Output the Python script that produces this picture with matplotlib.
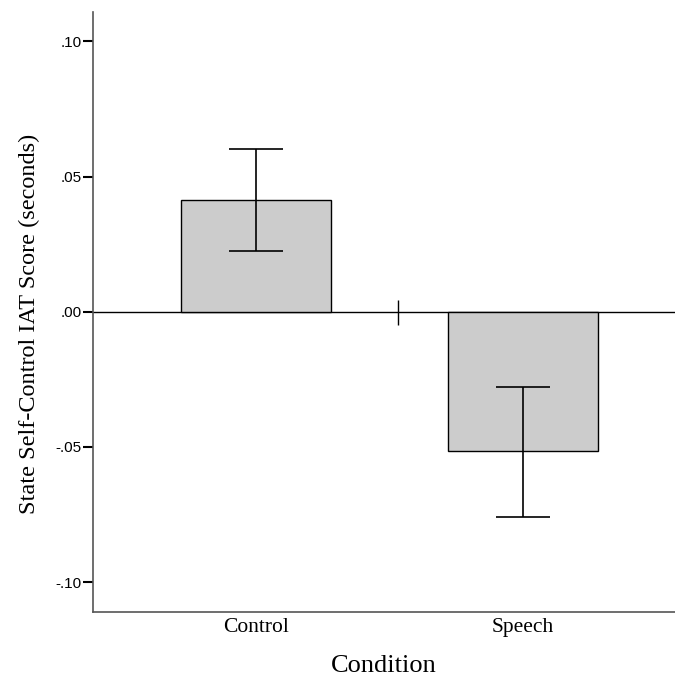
import numpy as np
import matplotlib.pyplot as plt

# Data
conditions = ['Control', 'Speech']
means = np.array([0.0414, -0.0517])
err_low = np.array([0.0226, -0.0758])
err_high = np.array([0.0603, -0.0277])

ind = np.arange(len(conditions))

fig = plt.figure(figsize=(6.75, 6.77), dpi=100)
ax = fig.add_axes([0.1378, 0.096, 0.862, 0.8863])

serif = 'Liberation Serif'
sans = 'Liberation Sans'

# bars
ax.bar(ind, means, 0.562, color='#cccccc', edgecolor='black', linewidth=1.0, zorder=2)

# error bars
yerr = np.vstack([means - err_low, err_high - means])
ax.errorbar(ind, means, yerr=yerr, fmt='none', ecolor='black', elinewidth=1.2,
            capsize=19.5, capthick=1.2, zorder=3)

# zero line and separator tick
ax.axhline(0, color='black', linewidth=1.0, zorder=1)
ax.plot([0.532], [0], marker='|', markersize=18, markeredgewidth=1.0, color='black', zorder=3)

ax.set_xlim(-0.61, 1.5675)
ax.set_ylim(-0.1111, 0.1109)

for s in ['top', 'right']:
    ax.spines[s].set_visible(False)
for s in ['left', 'bottom']:
    ax.spines[s].set_color('#555555')
    ax.spines[s].set_linewidth(1.2)

yt = [-0.10, -0.05, 0.0, 0.05, 0.10]
ax.set_yticks(yt)
ax.set_yticklabels(['-.10', '-.05', '.00', '.05', '.10'], fontfamily=sans, fontsize=11)
ax.tick_params(axis='y', length=7, width=1.5, color='black', pad=1)

ax.set_xticks(ind)
ax.set_xticklabels(conditions, fontfamily=serif, fontsize=15.5)
ax.tick_params(axis='x', length=0, pad=4)

ax.set_xlabel('Condition', fontfamily=serif, fontsize=19, labelpad=13)
ax.set_ylabel('State Self-Control IAT Score (seconds)', fontfamily=serif, fontsize=17.5,
              labelpad=11, y=0.48)

fig.savefig('out.png', dpi=100)
